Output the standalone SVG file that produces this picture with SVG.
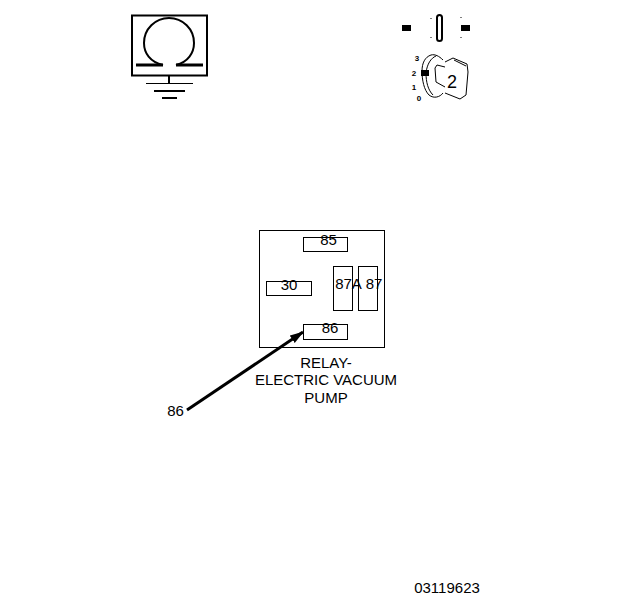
<svg xmlns="http://www.w3.org/2000/svg" width="624" height="600" viewBox="0 0 624 600">
<style>
text{font-family:"Liberation Sans",Arial,sans-serif;fill:#000;text-anchor:middle}
.l{font-size:15px}
.s{font-size:8px;font-weight:bold}
.o{fill:none;stroke:#000;stroke-width:1}
.t{fill:none;stroke:#000;stroke-width:2}
.k{fill:none;stroke:#000;stroke-width:3}
</style>
<defs><marker id="a" markerUnits="userSpaceOnUse" markerWidth="14" markerHeight="10" refX="13" refY="5" orient="auto"><path d="M0 0.500L14 5L0 9.500Z" fill="#000"/></marker></defs>
<rect width="624" height="600" fill="#fff"/>
<g id="omega-symbol">
<rect class="t" x="132" y="15.500" width="75" height="60"/>
<path class="t" d="M163 65C150 62 144 53 144 43A25 25 0 0 1 194 43C194 53 188 62 176 65"/>
<path class="k" d="M136 65H163M176 65H203"/>
<path class="t" d="M169 76V83"/>
<path class="o" d="M146 83.500H193"/>
<path class="t" d="M154 91H185"/>
<path class="t" d="M162 98H177"/>
</g>
<g id="key-switch">
<rect x="402" y="25" width="9" height="6"/>
<rect x="461" y="25" width="9" height="6"/>
<rect class="t" x="437" y="15" width="5" height="26" rx="2.500"/>
<path class="o" d="M431 18v1M431 37v1M461 17v1M461 37v1"/>
<text class="s" x="417" y="61">3</text>
<text class="s" x="414" y="76">2</text>
<text class="s" x="414" y="90">1</text>
<text class="s" x="419" y="101">0</text>
<rect x="421" y="70" width="8" height="6"/>
<path class="o" d="M443 60C439 56 435 54 431 55C425 57 422 63 422 71C422 80 424 90 429 95C434 99 440 97 443 93"/>
<path class="o" d="M436 56C431 58 427 64 426 73C426 82 428 90 433 95"/>
<path class="o" d="M445 67L437 65L435 68L436 82L445 87M445 62L453 58L467 64L468 72L466 95L460 99L445 93"/>
<path class="o" d="M454 60L466 66"/>
<text x="452" y="88" style="font-size:18px">2</text>
</g>
<g id="relay">
<rect class="o" x="259.500" y="230.500" width="125" height="117"/>
</g>
<g id="pin-85"><rect class="o" x="303.500" y="237.500" width="44" height="14"/><text class="l" x="328.500" y="244.500">85</text></g>
<g id="pin-30"><rect class="o" x="266.500" y="281.500" width="45" height="14"/><text class="l" x="289" y="290">30</text></g>
<g id="pin-87A"><rect class="o" x="333.500" y="266.500" width="19" height="44"/><text class="l" x="348.500" y="289">87A</text></g>
<g id="pin-87"><rect class="o" x="358.500" y="266.500" width="19" height="44"/><text class="l" x="374" y="289">87</text></g>
<g id="pin-86"><rect class="o" x="303.500" y="324.500" width="44" height="15"/><text class="l" x="330" y="332.500">86</text></g>
<g id="relay-label">
<text class="l" x="326" y="368">RELAY-</text>
<text class="l" x="326" y="385">ELECTRIC VACUUM</text>
<text class="l" x="326" y="403">PUMP</text>
</g>
<g id="connectors">
<path d="M187 410L303 332" stroke="#000" stroke-width="3" fill="none" marker-end="url(#a)"/>
</g>
<text class="l" x="175.500" y="416">86</text>
<text class="l" x="447" y="593">03119623</text>
</svg>
